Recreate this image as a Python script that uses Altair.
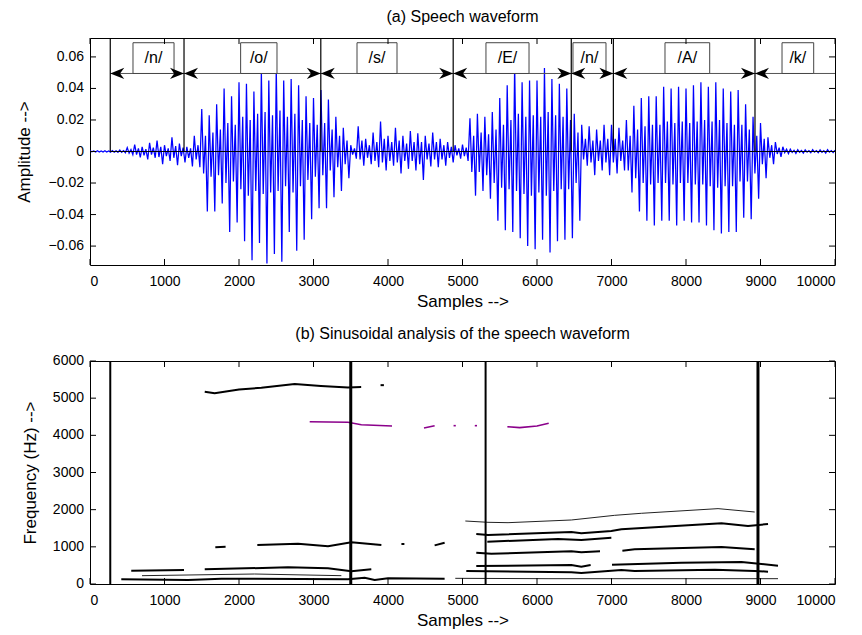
import altair as alt
import pandas as pd

FONT = "Liberation Sans"

# ---------------- (a) speech waveform ----------------
# outer peaks, one value per 100 samples, in units of 1e-3
WAVE_STEP = 100
WAVE_UP = [0.5, 0.5, 0.5, 0.6, 1.0, 2.5, 4.4, 3.0, 5.5, 7.0,
           4.0, 9.0, 5.0, 3.0, 10.0, 27, 23, 30, 40, 35,
           44, 43, 38, 51, 45, 53, 45, 46, 42, 35,
           34, 39, 33, 22, 15, 4, 16, 8, 12, 19,
           10, 15, 10, 13, 11.5, 10, 12, 8, 6, 4,
           4.4, 21, 24, 22, 25, 34, 42, 55, 44, 45,
           45, 53, 46, 43, 40, 24, 17, 16, 14, 17,
           17, 15, 20, 29, 34, 35, 35, 41, 40, 41,
           40, 42, 44, 41, 44, 40, 38, 39, 30, 22,
           18, 9, 6, 3, 1.5, 1.2, 1.0, 1.2, 1.0, 1.2, 0.8]
WAVE_DN = [-0.3, -0.3, -0.4, -0.5, -0.8, -2.0, -3.8, -5.0, -4.0, -8.0,
           -6.0, -8.7, -7.0, -9.5, -10.0, -38, -38, -33, -51, -45,
           -57, -69, -58, -71, -65, -70, -51, -63, -56, -43,
           -36, -36, -29, -25, -17, -4.5, -9, -8, -10, -12,
           -9, -14, -11, -12, -18, -9.5, -10, -9, -7, -4.5,
           -6, -28, -25, -30, -44, -50, -51, -55, -60, -62,
           -56, -64, -57, -56, -55, -44, -9, -15, -12, -15,
           -14, -12, -26, -38, -44, -47, -44, -44, -47, -44,
           -45, -45, -47, -50, -52, -51, -51, -42, -43, -30,
           -17, -8, -3.4, -1.3, -1.2, -1.0, -0.8, -0.8, -1.0, -0.7]
# inner (smaller) peaks between the outer ones, one value per 100 samples, units of 1e-3
INNER_UP = [0.3, 0.3, 0.3, 0.4, 0.6, 1.2, 2, 1.5, 2.5, 3,
            2, 3.5, 2.5, 2, 4, 10, 12, 14, 18, 17,
            22, 20, 24, 25, 23, 26, 22, 24, 20, 18,
            17, 18, 14, 10, 7, 2, 7, 4, 6, 8,
            6, 7, 5, 6, 6, 5, 6, 4, 3, 2,
            2.5, 10, 12, 11, 14, 17, 20, 24, 22, 23,
            22, 25, 23, 22, 20, 12, 8, 7, 7, 8,
            8, 7, 10, 14, 16, 17, 17, 19, 18, 19,
            18, 19, 20, 19, 20, 18, 17, 17, 14, 10,
            8, 4, 2.5, 1.5, 0.8, 0.6, 0.5, 0.6, 0.5, 0.6]
INNER_DN = [-0.2, -0.3, -0.3, -0.4, -0.5, -1, -2, -2.5, -2, -3.5,
            -3, -4, -3, -4, -5, -14, -16, -15, -20, -19,
            -24, -28, -25, -27, -26, -25, -22, -26, -22, -18,
            -16, -15, -12, -10, -8, -2, -5, -4, -6, -7,
            -6, -7, -6, -6, -8, -5, -5, -5, -4, -2.5,
            -3, -13, -13, -15, -20, -23, -24, -25, -27, -28,
            -26, -28, -25, -24, -24, -20, -5, -7, -6, -7,
            -7, -6, -12, -17, -20, -21, -20, -20, -21, -20,
            -20, -21, -21, -22, -23, -22, -22, -19, -19, -14,
            -8, -4, -1.6, -0.7, -0.6, -0.5, -0.4, -0.4, -0.5, -0.4]

BOUNDARIES = [272, 1262, 3098, 4875, 6460, 7025, 8926]
PHONEMES = ["/n/", "/o/", "/s/", "/E/", "/n/", "/A/", "/k/"]
BOX_LEFT = [577, 2022, 3584, 5315, 6483, 7718, 9289]
BOX_RIGHT = [1128, 2510, 4121, 5893, 6926, 8318, 9714]
ARROW_Y = 0.0495
BOX_TOP = 0.069
LABEL_Y = 0.0595
X_TICKS = list(range(0, 10001, 1000))
AMP_TICKS = [-0.06, -0.04, -0.02, 0, 0.02, 0.04, 0.06]
AMP_DOMAIN = [-0.072, 0.072]

# ---------------- (b) sinusoidal tracks ----------------
THICK_TRACKS = [
    [(1540, 5174), (1673, 5130), (2000, 5230), (2300, 5280), (2747, 5380), (3100, 5330), (3463, 5290), (3640, 5300)],
    [(3900, 5350), (3945, 5350)],
    [(1682, 987), (1820, 1000)],
    [(2246, 1049), (2792, 1085), (3195, 1014), (3508, 1121), (3911, 1049)],
    [(4180, 1076), (4220, 1076)],
    [(4626, 1040), (4760, 1112)],
    [(554, 358), (1262, 377)],
    [(1540, 395), (2658, 449), (3195, 422), (3508, 341), (3776, 395)],
    [(420, 126), (1315, 108), (1762, 143), (3463, 126), (3687, 170), (3821, 108), (4000, 153), (4760, 143)],
    [(5185, 1345), (5342, 1318), (6461, 1399), (6595, 1363), (6998, 1426), (7132, 1471), (8476, 1632), (8832, 1560), (9101, 1614)],
    [(5333, 1139), (6282, 1211), (6595, 1184), (6998, 1246)],
    [(5185, 843), (5387, 816), (6461, 879), (6595, 852), (6846, 879)],
    [(7146, 896), (7311, 933), (8476, 995), (8922, 933)],
    [(5185, 484), (6461, 511), (6595, 466), (6720, 511)],
    [(7007, 520), (7937, 574), (8745, 592), (9235, 493)],
    [(5051, 350), (6461, 314), (6595, 296), (7132, 377), (7311, 350), (8386, 386), (8922, 350), (9101, 332)],
]
THIN_TRACKS = [
    [(698, 224), (2210, 269), (3374, 224)],
    [(5038, 1695), (5342, 1660), (5611, 1650), (6461, 1722), (7043, 1848), (7400, 1902), (8430, 2028), (8922, 1937)],
    [(4903, 153), (6148, 143), (9235, 143)],
]
PURPLE_TRACKS = [
    [(2949, 4367), (3200, 4360), (3463, 4350), (3642, 4286), (4054, 4250)],
    [(4483, 4197), (4626, 4260)],
    [(4880, 4260), (4910, 4260)],
    [(5165, 4260), (5195, 4260)],
    [(5602, 4233), (5768, 4207), (6000, 4250), (6157, 4323)],
]
MARKS_THIN = [272, 5310]
MARKS_THICK = [3500, 8966]
FREQ_TICKS = list(range(0, 6001, 1000))
FREQ_DOMAIN = [0, 6000]

W = 745
H1 = 227
H2 = 223
TICK = 6

# ---------- data frames ----------
wave_rows = []
q = WAVE_STEP // 4
for i, u in enumerate(WAVE_UP):
    base = i * WAVE_STEP
    wave_rows.append({"x": base, "y": u / 1000.0, "o": 4 * i})
    if i < len(INNER_DN):
        wave_rows.append({"x": base + q, "y": INNER_DN[i] / 1000.0, "o": 4 * i + 1})
        wave_rows.append({"x": base + 2 * q, "y": INNER_UP[i] / 1000.0, "o": 4 * i + 2})
        wave_rows.append({"x": base + 3 * q, "y": WAVE_DN[i] / 1000.0, "o": 4 * i + 3})
wave = pd.DataFrame(wave_rows)

bnd = pd.DataFrame({"x": BOUNDARIES})
arrow_rows = []
head_l = []
head_r = []
for k, b in enumerate(BOUNDARIES):
    end = BOUNDARIES[k + 1] if k + 1 < len(BOUNDARIES) else X_TICKS[-1]
    arrow_rows.append({"x": b, "x2": end, "y": ARROW_Y})
    head_l.append({"x": b, "y": ARROW_Y})
    if k + 1 < len(BOUNDARIES):
        head_r.append({"x": end, "y": ARROW_Y})
arrows = pd.DataFrame(arrow_rows)
heads_l = pd.DataFrame(head_l)
heads_r = pd.DataFrame(head_r)
boxes = pd.DataFrame({"x": BOX_LEFT, "x2": BOX_RIGHT, "y": [ARROW_Y] * 7, "y2": [BOX_TOP] * 7,
                      "xc": [(a + b) / 2 for a, b in zip(BOX_LEFT, BOX_RIGHT)],
                      "yc": [LABEL_Y] * 7, "label": PHONEMES})
zero = pd.DataFrame({"x": [BOUNDARIES[0]], "x2": [X_TICKS[-1]], "y": [0]})

xt = pd.DataFrame({"x": X_TICKS})
at = pd.DataFrame({"y": AMP_TICKS,
                   "label": ["0" if v == 0 else f"{v:.2f}".replace("-", "\u2212") for v in AMP_TICKS]})
ft = pd.DataFrame({"y": FREQ_TICKS, "label": [str(v) for v in FREQ_TICKS]})


def tracks_df(tracks, prefix):
    rows = []
    for t, pts in enumerate(tracks):
        for j, (sx, f) in enumerate(pts):
            rows.append({"track": f"{prefix}{t}", "x": sx, "y": f, "o": j})
    return pd.DataFrame(rows)


thick = tracks_df(THICK_TRACKS, "k")
thin = tracks_df(THIN_TRACKS, "t")
purple = tracks_df(PURPLE_TRACKS, "p")

xscale = alt.Scale(domain=[0, 10000], nice=False, zero=False)
xaxis = alt.Axis(values=X_TICKS, title="Samples -->", grid=False, ticks=False, domain=False,
                 labelPadding=9, titlePadding=5, format="d", labelOverlap=False, labelBound=False)


def tick_layers(xvals_df, yvals_df, yscale, h):
    bot = alt.Chart(xvals_df).mark_rule(color="black", strokeWidth=1).encode(
        x=alt.X("x:Q", scale=xscale), y=alt.value(h - TICK), y2=alt.value(h))
    top = alt.Chart(xvals_df).mark_rule(color="black", strokeWidth=1).encode(
        x=alt.X("x:Q", scale=xscale), y=alt.value(0), y2=alt.value(TICK))
    lef = alt.Chart(yvals_df).mark_rule(color="black", strokeWidth=1).encode(
        y=alt.Y("y:Q", scale=yscale), x=alt.value(0), x2=alt.value(TICK))
    rig = alt.Chart(yvals_df).mark_rule(color="black", strokeWidth=1).encode(
        y=alt.Y("y:Q", scale=yscale), x=alt.value(W - TICK), x2=alt.value(W))
    lab = alt.Chart(yvals_df).mark_text(font=FONT, fontSize=14, color="black", align="right",
                                        baseline="middle").encode(
        y=alt.Y("y:Q", scale=yscale), x=alt.value(-6), text="label:N")
    return [bot, top, lef, rig, lab]


ascale = alt.Scale(domain=AMP_DOMAIN, nice=False, zero=False)
ayaxis = alt.Axis(title="Amplitude -->", grid=False, ticks=False, domain=False, labels=False,
                  titlePadding=57)

wave_line = alt.Chart(wave).mark_line(color="#0000ff", strokeWidth=1.25, clip=True).encode(
    x=alt.X("x:Q", scale=xscale, axis=xaxis),
    y=alt.Y("y:Q", scale=ascale, axis=ayaxis),
    order="o:Q")
arrow_lines = alt.Chart(arrows).mark_rule(color="#555555", strokeWidth=1).encode(
    x=alt.X("x:Q", scale=xscale), x2="x2:Q", y=alt.Y("y:Q", scale=ascale))
box_rects = alt.Chart(boxes).mark_rect(fill="white", stroke="#444444", strokeWidth=1).encode(
    x=alt.X("x:Q", scale=xscale), x2="x2:Q", y=alt.Y("y:Q", scale=ascale), y2="y2:Q")
box_text = alt.Chart(boxes).mark_text(font=FONT, fontSize=16, color="black").encode(
    x=alt.X("xc:Q", scale=xscale), y=alt.Y("yc:Q", scale=ascale), text="label:N")
bnd_lines = alt.Chart(bnd).mark_rule(color="black", strokeWidth=1.2).encode(
    x=alt.X("x:Q", scale=xscale), y=alt.datum(0), y2=alt.datum(AMP_DOMAIN[1]))
zero_line = alt.Chart(zero).mark_rule(color="black", strokeWidth=1).encode(
    x=alt.X("x:Q", scale=xscale), x2="x2:Q", y=alt.Y("y:Q", scale=ascale))
RIGHT_HEAD = "M0,0 L-2,-0.8 L-1.4,0 L-2,0.8 Z"
LEFT_HEAD = "M0,0 L2,-0.8 L1.4,0 L2,0.8 Z"
hl = alt.Chart(heads_l).mark_point(shape=LEFT_HEAD, size=196, filled=True, color="black", opacity=1).encode(
    x=alt.X("x:Q", scale=xscale), y=alt.Y("y:Q", scale=ascale))
hr = alt.Chart(heads_r).mark_point(shape=RIGHT_HEAD, size=196, filled=True, color="black", opacity=1).encode(
    x=alt.X("x:Q", scale=xscale), y=alt.Y("y:Q", scale=ascale))

top = alt.layer(
    wave_line, arrow_lines, box_rects, box_text, zero_line, bnd_lines, hl, hr,
    *tick_layers(xt, at, ascale, H1)
).properties(
    width=W, height=H1,
    title=alt.Title("(a) Speech waveform", fontSize=16, fontWeight="normal", font=FONT, offset=12, color="black"))

fscale = alt.Scale(domain=FREQ_DOMAIN, nice=False, zero=False)
fyaxis = alt.Axis(title="Frequency (Hz) -->", grid=False, ticks=False, domain=False, labels=False,
                  titlePadding=51)

thick_l = alt.Chart(thick).mark_line(color="black", strokeWidth=2).encode(
    x=alt.X("x:Q", scale=xscale, axis=xaxis), y=alt.Y("y:Q", scale=fscale, axis=fyaxis),
    detail="track:N", order="o:Q")
thin_l = alt.Chart(thin).mark_line(color="#222222", strokeWidth=1).encode(
    x=alt.X("x:Q", scale=xscale), y=alt.Y("y:Q", scale=fscale), detail="track:N", order="o:Q")
purple_l = alt.Chart(purple).mark_line(color="#8b008b", strokeWidth=1.6).encode(
    x=alt.X("x:Q", scale=xscale), y=alt.Y("y:Q", scale=fscale), detail="track:N", order="o:Q")
m_thin = alt.Chart(pd.DataFrame({"x": MARKS_THIN})).mark_rule(color="black", strokeWidth=2).encode(
    x=alt.X("x:Q", scale=xscale))
m_thick = alt.Chart(pd.DataFrame({"x": MARKS_THICK})).mark_rule(color="black", strokeWidth=3).encode(
    x=alt.X("x:Q", scale=xscale))

bottom = alt.layer(
    thick_l, thin_l, purple_l, m_thin, m_thick, *tick_layers(xt, ft, fscale, H2)
).properties(
    width=W, height=H2,
    title=alt.Title("(b) Sinusoidal analysis of the speech waveform", fontSize=16, fontWeight="normal",
                    font=FONT, offset=12, color="black"))

chart = alt.vconcat(top, bottom, spacing=15).configure_view(
    stroke="black", strokeWidth=1
).configure_axis(
    labelFont=FONT, titleFont=FONT, labelFontSize=14, titleFontSize=17, titleFontWeight="normal",
    labelColor="black", titleColor="black"
).properties(padding={"left": 14, "top": 8, "right": 5, "bottom": 5})

chart.save("out.html", embed_options={"renderer": "svg", "actions": False})
